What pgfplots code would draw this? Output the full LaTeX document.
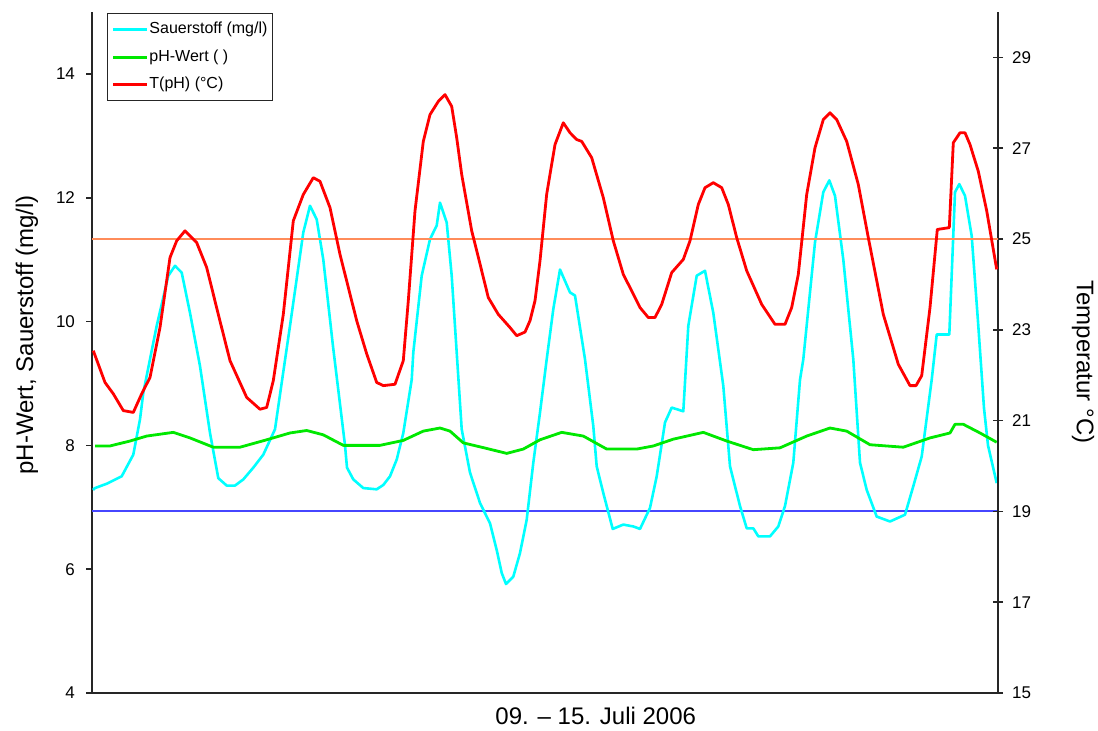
\documentclass[border=0pt]{standalone}
\usepackage{fontspec}
\setmainfont{Liberation Sans}
\usepackage{pgfplots}
\pgfplotsset{compat=1.18}

\definecolor{oxy}{RGB}{0,255,255}
\definecolor{phg}{RGB}{0,232,0}
\definecolor{tred}{RGB}{255,0,0}
\definecolor{hlorange}{RGB}{255,140,90}
\definecolor{linieblau}{RGB}{70,70,255}

\begin{document}
\begin{tikzpicture}
\useasboundingbox (0,0) rectangle (549pt,365.5pt);
% left axis: oxygen and pH
\begin{axis}[
  at={(46pt,19pt)}, anchor=south west,
  scale only axis, width=453pt, height=340.5pt,
  xmin=0, xmax=906, ymin=4, ymax=15,
  ytick={4,6,8,10,12,14},
  xtick=\empty,
  axis x line*=bottom, axis y line*=left,
  axis line style={-, line width=0.8pt, black!85},
  tick style={line width=0.8pt, black!85},
  tick align=outside, major tick length=3pt,
  /pgf/number format/assume math mode=true,
  ticklabel style={font=\fontsize{8.5}{10}\selectfont},
  yticklabel style={xshift=-2pt},
  xlabel={09. – 15. Juli 2006},
  xlabel style={at={(axis description cs:0.556,-0.034)}, anchor=center, font=\fontsize{12}{14}\selectfont},
  ylabel={pH-Wert, Sauerstoff (mg/l)},
  ylabel style={at={(axis description cs:-0.0717,0.526)}, anchor=center, font=\fontsize{12}{14}\selectfont},
  legend style={at={(axis description cs:0.0166,0.9985)}, anchor=north west,
    draw=black!85, line width=0.6pt, fill=white,
    font=\fontsize{8}{9}\selectfont,
    inner xsep=2pt, inner ysep=3.5pt, row sep=4.75pt,
    nodes={inner sep=0.5pt, text height=6pt, text depth=2pt, anchor=west}},
  legend cell align=left,
  legend image code/.code={\draw[#1] (0pt,0pt) -- (17pt,0pt);},
]
\addplot[color=linieblau, line width=0.9pt, forget plot] coordinates {(0,6.94) (906,6.94)};
\addplot[oxy, line width=1.3pt, line join=round] coordinates {
(1,7.28) (3,7.31) (14.7,7.38) (29.7,7.50) (41.3,7.85) (48,8.42) (51.3,8.85)
(64.7,9.93) (76.3,10.74) (83,10.90) (89.7,10.79) (98,10.14) (108,9.28) (118,8.20)
(126.3,7.47) (134.7,7.35) (143,7.35) (151.3,7.45) (161.3,7.64) (171.3,7.85) (183,8.26)
(189.7,9.01) (198,9.93) (211.3,11.44) (218,11.87) (224.7,11.65) (231.3,11.00) (241,9.60)
(253,8.00) (255,7.64) (261.3,7.45) (271.3,7.31) (284.7,7.29) (291.3,7.36) (298,7.50)
(304.7,7.77) (311.3,8.20) (319.7,9.06) (321.3,9.50) (329.7,10.74) (338,11.33) (344.7,11.55)
(348,11.92) (354.7,11.60) (359.7,10.74) (364.7,9.50) (369.7,8.26) (378,7.56) (388,7.07)
(398,6.74) (404.7,6.31) (409.7,5.94) (414,5.76) (421.3,5.88) (428,6.26) (434.7,6.80)
(441.3,7.72) (448,8.53) (454.7,9.39) (461.3,10.20) (468,10.84) (478,10.47) (483,10.42)
(493,9.39) (501.3,8.31) (504.7,7.66) (511.3,7.23) (520.7,6.65) (531.3,6.72) (541.3,6.69)
(548,6.65) (558,6.99) (564.7,7.50) (573,8.37) (579.7,8.61) (591.3,8.55) (596.3,9.93)
(604.7,10.74) (613,10.82) (621.3,10.14) (631.3,8.96) (638,7.66) (648,7.02) (654.7,6.66)
(661.3,6.66) (666.3,6.53) (678,6.53) (686.3,6.69) (693,7.02) (701.3,7.72) (708,9.06)
(711.3,9.39) (723,11.28) (731.3,12.09) (737.3,12.28) (743,12.03) (751.3,11.00) (761.3,9.39)
(768,7.72) (774.7,7.28) (784.7,6.85) (798,6.77) (813,6.88) (821.3,7.34) (829.7,7.82)
(839.7,9.06) (844.7,9.79) (857.3,9.79) (863,12.09) (867.3,12.22) (873,12.03) (879.7,11.38)
(886,10.00) (892,8.60) (896,8.00) (904.7,7.39)
};
\addlegendentry{Sauerstoff (mg/l)}
\addplot[phg, line width=1.4pt, line join=round] coordinates {
(3,7.99) (18,7.99) (38,8.07) (54.7,8.15) (81.3,8.21) (98,8.12) (121.3,7.97) (148,7.97)
(174.7,8.09) (198,8.20) (214.7,8.24) (231.3,8.17) (251.3,8.00) (288,8.00) (311.3,8.08)
(331.3,8.23) (348,8.28) (358,8.23) (371.3,8.04) (394.7,7.95) (414.7,7.87) (431.3,7.94)
(448,8.09) (469.7,8.21) (491.3,8.15) (514.7,7.94) (544.7,7.94) (561.3,7.99) (581.3,8.10)
(611.3,8.21) (634.7,8.07) (661.3,7.93) (688,7.96) (714.7,8.15) (738,8.28) (754.7,8.23)
(778,8.01) (811.3,7.97) (838,8.12) (858,8.20) (863,8.34) (871.3,8.34) (888,8.20) (904.7,8.05)
};
\addlegendentry{pH-Wert ( )}
\addlegendimage{tred, line width=1.4pt}
\addlegendentry{T(pH) (°C)}
\end{axis}
% right axis: temperature
\begin{axis}[
  at={(46pt,19pt)}, anchor=south west,
  scale only axis, width=453pt, height=340.5pt,
  xmin=0, xmax=906, ymin=15, ymax=30,
  ytick={15,17,19,21,23,25,27,29},
  axis x line=none, axis y line*=right,
  axis line style={-, line width=0.8pt, black!85},
  tick style={line width=0.8pt, black!85},
  tick align=center, major tick length=5pt,
  /pgf/number format/assume math mode=true,
  ticklabel style={font=\fontsize{8.5}{10}\selectfont},
  yticklabel style={xshift=1pt},
  ylabel={Temperatur °C)},
  ylabel style={at={(axis description cs:1.094,0.486)}, anchor=center, rotate=180, font=\fontsize{12}{14}\selectfont},
]
\addplot[draw=hlorange, line width=0.7pt] coordinates {(0,25) (906,25)};
\addplot[tred, line width=1.4pt, line join=round] coordinates {
(1.3,22.54) (13,21.84) (21.3,21.59) (31.3,21.22) (41.3,21.18) (49.7,21.59) (58,21.95)
(68,23.05) (78,24.59) (84.7,24.96) (93,25.18) (104.7,24.92) (114.7,24.37) (126.3,23.34)
(138,22.32) (154.7,21.51) (168,21.25) (174.7,21.29) (181.3,21.88) (191.3,23.34) (201.3,25.40)
(211.3,25.98) (221.3,26.35) (228,26.27) (238,25.69) (248,24.66) (264.7,23.20) (274.7,22.47)
(284.7,21.84) (291.3,21.77) (303,21.80) (311.3,22.32) (316.3,23.64) (323,25.62) (331.3,27.15)
(338,27.74) (346.3,28.03) (353,28.18) (359.7,27.92) (364.7,27.23) (369.7,26.42) (379.7,25.18)
(388,24.45) (396.3,23.71) (406.3,23.34) (418,23.05) (424.7,22.87) (433,22.95) (438,23.20)
(443,23.64) (448,24.52) (454.7,25.99) (463,27.08) (471.3,27.56) (478,27.34) (484.7,27.19)
(489.7,27.15) (499.7,26.79) (511.3,25.91) (521.3,24.96) (531.3,24.22) (538,23.93) (548,23.49)
(556.3,23.27) (563,23.27) (569.7,23.56) (579.7,24.26) (591.3,24.55) (598,24.96) (606.3,25.76)
(613,26.13) (621.3,26.24) (629.7,26.13) (636.3,25.76) (644.7,25.03) (654.7,24.30) (669.7,23.56)
(683,23.12) (693,23.12) (699.7,23.49) (706.3,24.22) (714.7,25.98) (723,27.01) (731.3,27.63)
(738,27.78) (744.7,27.63) (754.7,27.15) (766.3,26.20) (776.3,25.03) (791.3,23.34) (806.3,22.24)
(818,21.77) (824,21.77) (829.7,21.99) (838,23.49) (845.3,25.21) (857.3,25.25) (861.3,27.12)
(868,27.34) (873,27.34) (878,27.08) (886.3,26.49) (894.7,25.62) (904.7,24.33)
};
\end{axis}
\end{tikzpicture}
\end{document}
